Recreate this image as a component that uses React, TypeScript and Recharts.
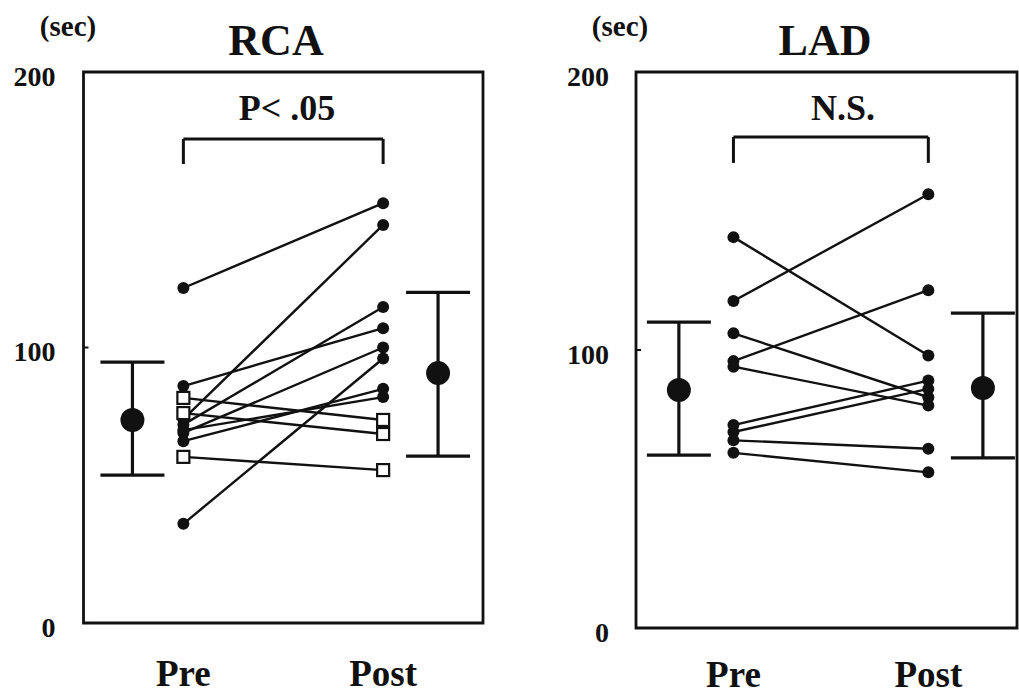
import React from 'react';
import { ComposedChart, Line, Scatter, ErrorBar, XAxis, YAxis, ReferenceArea, ReferenceLine } from 'recharts';

// ---- data ----
const yTicks = [0, 100, 200];
const phaseLabels = ['Pre', 'Post'];

const rcaPre = [121.6, 74, 86, 72, 36, 69, 66, 70, 81.7, 76.2, 60.3];
const rcaPost = [152.4, 144.5, 107, 114.7, 96, 100, 85, 82, 73.7, 68.6, 55.5];
const rcaMarker = ['filled', 'filled', 'filled', 'filled', 'filled', 'filled', 'filled', 'filled', 'open', 'open', 'open'];
const rcaMean = [73.7, 90.7];
const rcaLow = [53.7, 60.6];
const rcaHigh = [94.7, 120];

const ladPre = [140.6, 117.6, 106, 96, 94, 73, 70.5, 67.5, 63];
const ladPost = [98, 156, 83, 121.5, 80, 89, 86, 64.5, 56];
const ladMarker = ['filled', 'filled', 'filled', 'filled', 'filled', 'filled', 'filled', 'filled', 'filled'];
const ladMean = [85.6, 86.3];
const ladLow = [62.2, 61.2];
const ladHigh = [110, 113.3];

const FONT = '"Liberation Serif", "Times New Roman", serif';
const PRE_X = 1;
const POST_X = 3;

type PanelProps = {
  left: number;
  width: number;
  yAxisWidth: number;
  marginRight: number;
  xAxisHeight: number;
  xTickMargin: number;
  xMax: number;
  meanXs: number[];
  pre: number[];
  post: number[];
  marker: string[];
  mean: number[];
  low: number[];
  high: number[];
  tickGap: number;
  bracketLow: number;
  bracketHigh: number;
};

const Panel = (p: PanelProps) => {
  const meanData = p.mean.map((m, i) => ({ x: p.meanXs[i], y: m, err: [m - p.low[i], p.high[i] - m] }));

  const YTick = (props: any) => {
    const { x, y, payload } = props;
    return (
      <g>
        <text x={x} y={y + 4} dy="0.35em" textAnchor="end" fontFamily={FONT} fontWeight="bold" fontSize={28} fill="#111">
          {payload.value}
        </text>
        <line x1={x + p.tickGap} x2={x + p.tickGap + 5} y1={y} y2={y} stroke="#111" strokeWidth={2} />
      </g>
    );
  };

  const XTick = (props: any) => {
    const { x, y, payload } = props;
    const label = payload.value === PRE_X ? phaseLabels[0] : phaseLabels[1];
    return (
      <text x={x} y={y} textAnchor="middle" fontFamily={FONT} fontWeight="bold" fontSize={37} fill="#111">
        {label}
      </text>
    );
  };

  const makeDot = (kind: string) => (props: any) => {
    const { cx, cy, index } = props;
    if (kind === 'open') {
      return <rect key={index} x={cx - 6} y={cy - 6} width={12} height={12} fill="#fff" stroke="#111" strokeWidth={2.2} />;
    }
    return <circle key={index} cx={cx} cy={cy} r={6} fill="#111" />;
  };

  return (
    <div style={{ position: 'absolute', left: p.left, top: 0 }}>
      <ComposedChart width={p.width} height={697} margin={{ top: 72, right: p.marginRight, bottom: 0, left: 0 }}>
        <XAxis
          dataKey="x"
          type="number"
          domain={[0, p.xMax]}
          ticks={[PRE_X, POST_X]}
          axisLine={false}
          tickLine={false}
          tickSize={0}
          tickMargin={p.xTickMargin}
          height={p.xAxisHeight}
          tick={<XTick />}
          allowDataOverflow
        />
        <YAxis
          type="number"
          domain={[0, 200]}
          ticks={yTicks}
          width={p.yAxisWidth}
          axisLine={false}
          tickLine={false}
          tickSize={0}
          tickMargin={p.tickGap}
          tick={<YTick />}
          allowDataOverflow
        />
        <ReferenceArea x1={0} x2={p.xMax} y1={0} y2={200} fill="none" stroke="#111" strokeWidth={2.8} fillOpacity={0} ifOverflow="visible" />
        <ReferenceLine segment={[{ x: PRE_X, y: p.bracketLow }, { x: PRE_X, y: p.bracketHigh }]} stroke="#111" strokeWidth={3} ifOverflow="visible" />
        <ReferenceLine segment={[{ x: PRE_X, y: p.bracketHigh }, { x: POST_X, y: p.bracketHigh }]} stroke="#111" strokeWidth={3} ifOverflow="visible" />
        <ReferenceLine segment={[{ x: POST_X, y: p.bracketHigh }, { x: POST_X, y: p.bracketLow }]} stroke="#111" strokeWidth={3} ifOverflow="visible" />
        {p.pre.map((v, i) => (
          <Line
            key={'s' + i}
            data={[{ x: PRE_X, y: v }, { x: POST_X, y: p.post[i] }]}
            dataKey="y"
            stroke="#111"
            strokeWidth={2.4}
            dot={makeDot(p.marker[i])}
            activeDot={false}
            isAnimationActive={false}
          />
        ))}
        <Scatter
          data={meanData}
          dataKey="y"
          isAnimationActive={false}
          shape={(sp: any) => <circle cx={sp.cx} cy={sp.cy} r={12} fill="#111" />}
        >
          <ErrorBar dataKey="err" direction="y" width={32} strokeWidth={3.2} stroke="#111" isAnimationActive={false} />
        </Scatter>
      </ComposedChart>
    </div>
  );
};

export default function App() {
  const t = { fontFamily: FONT, fontWeight: 'bold' as const, fill: '#111' };
  return (
    <div style={{ position: 'absolute', left: 0, top: 0, width: 1019, height: 697, background: '#fff', overflow: 'hidden' }}>
      <Panel
        left={0}
        width={510}
        yAxisWidth={83.5}
        marginRight={27}
        xAxisHeight={74}
        xTickMargin={63}
        xMax={4}
        meanXs={[0.49, 3.55]}
        pre={rcaPre}
        post={rcaPost}
        marker={rcaMarker}
        mean={rcaMean}
        low={rcaLow}
        high={rcaHigh}
        tickGap={28}
        bracketLow={166.6}
        bracketHigh={175.7}
      />
      <Panel
        left={510}
        width={509}
        yAxisWidth={126}
        marginRight={2}
        xAxisHeight={69}
        xTickMargin={59}
        xMax={3.91}
        meanXs={[0.44, 3.56]}
        pre={ladPre}
        post={ladPost}
        marker={ladMarker}
        mean={ladMean}
        low={ladLow}
        high={ladHigh}
        tickGap={27}
        bracketLow={167.3}
        bracketHigh={176.6}
      />
      <svg width={1019} height={697} style={{ position: 'absolute', left: 0, top: 0, pointerEvents: 'none' }}>
        <text x={68} y={36} textAnchor="middle" fontSize={29} {...t}>(sec)</text>
        <text x={276} y={55} textAnchor="middle" fontSize={44} {...t}>RCA</text>
        <text x={287} y={120} textAnchor="middle" fontSize={36} {...t}>P&lt; .05</text>
        <text x={620} y={36} textAnchor="middle" fontSize={29} {...t}>(sec)</text>
        <text x={825} y={55} textAnchor="middle" fontSize={44} {...t}>LAD</text>
        <text x={843} y={120} textAnchor="middle" fontSize={36} {...t}>N.S.</text>
      </svg>
    </div>
  );
}
